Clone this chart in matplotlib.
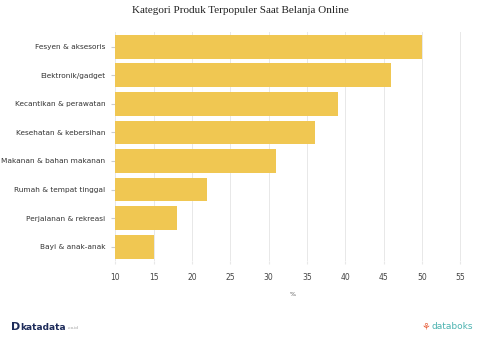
import matplotlib
matplotlib.use("Agg")
import matplotlib.pyplot as plt

categories = [
    "Fesyen & aksesoris",
    "Elektronik/gadget",
    "Kecantikan & perawatan",
    "Kesehatan & kebersihan",
    "Makanan & bahan makanan",
    "Rumah & tempat tinggal",
    "Perjalanan & rekreasi",
    "Bayi & anak-anak",
]
values = [50, 46, 39, 36, 31, 22, 18, 15]
xticks = [10, 15, 20, 25, 30, 35, 40, 45, 50, 55]

BAR = "#f0c752"

fig = plt.figure(figsize=(4.8, 3.6), dpi=100)
ax = fig.add_axes([0.24, 0.275, 0.74, 0.635])

ypos = list(range(len(categories)))
ax.barh(ypos, [v - 10 for v in values], left=10, height=0.83,
        color=BAR, zorder=2)
ax.set_ylim(len(categories) - 0.5, -0.5)
ax.set_xlim(10, 56.3)
ax.set_xticks(xticks)
ax.set_xticklabels([str(t) for t in xticks], fontsize=5.5, color="#444444")
ax.set_yticks(ypos)
ax.set_yticklabels(categories, fontsize=5.3, color="#333333")
ax.grid(axis="x", color="#e8e8e8", linewidth=0.7, zorder=0)
for s in ax.spines.values():
    s.set_visible(False)
ax.tick_params(axis="x", length=2, color="#e8e8e8", pad=7)
ax.tick_params(axis="y", length=3, color="#cccccc", pad=4)
ax.set_xlabel("%", fontsize=4.5, color="#555555", labelpad=7)

fig.text(0.5, 0.972, "Kategori Produk Terpopuler Saat Belanja Online",
         ha="center", va="center", fontsize=8,
         family=["Liberation Serif", "DejaVu Serif"], color="#222222")

fig.text(0.022, 0.092, "D", fontsize=8, fontweight="bold", color="#1d2b5a",
         ha="left", va="center")
fig.text(0.042, 0.09, "katadata", fontsize=6.5, fontweight="bold",
         color="#1d2b5a", ha="left", va="center")
fig.text(0.14, 0.088, ".co.id", fontsize=3, color="#999999",
         ha="left", va="center")
fig.text(0.878, 0.092, "\u2698", fontsize=7, color="#e8603c",
         ha="left", va="center")
fig.text(0.898, 0.092, "databoks", fontsize=6.5, color="#4bb3b0",
         ha="left", va="center")

fig.savefig("out.png", dpi=100)
